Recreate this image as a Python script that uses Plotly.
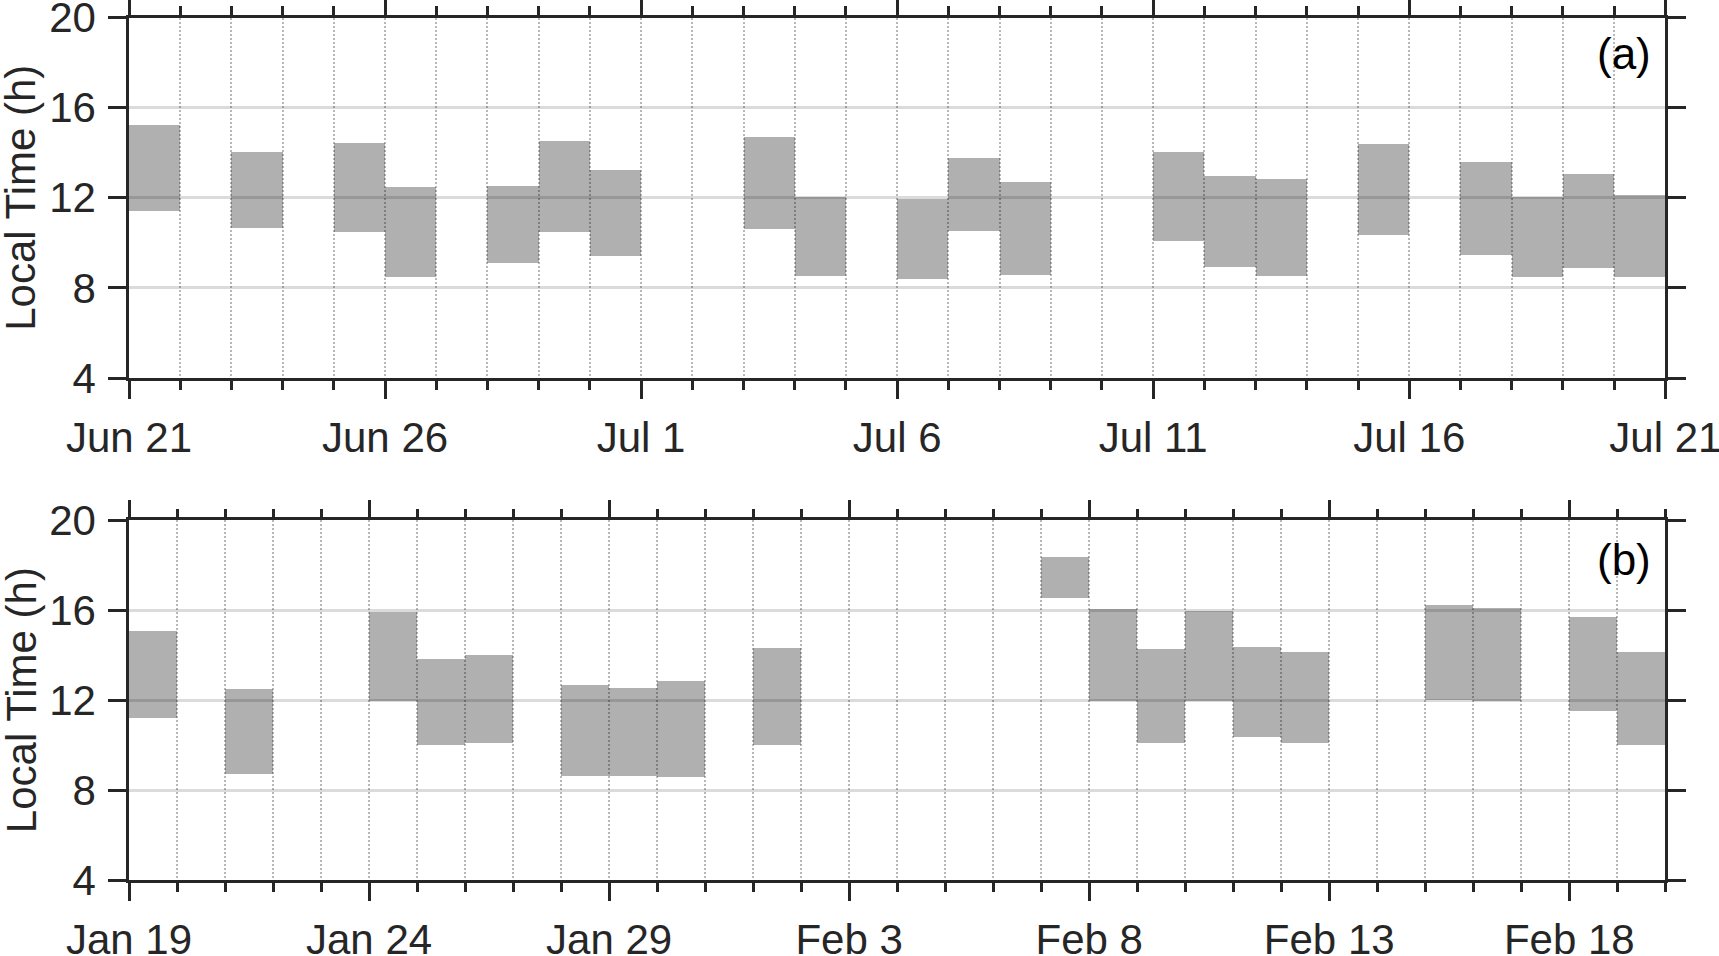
import plotly.graph_objects as go

# ---------------- data ----------------
# Panel (a): summer period
summer_days = ["2021-06-21", "2021-06-23", "2021-06-25", "2021-06-26", "2021-06-28",
               "2021-06-29", "2021-06-30", "2021-07-03", "2021-07-04", "2021-07-06",
               "2021-07-07", "2021-07-08", "2021-07-11", "2021-07-12", "2021-07-13",
               "2021-07-15", "2021-07-17", "2021-07-18", "2021-07-19", "2021-07-20"]
summer_start = [11.44, 10.70, 10.52, 8.49, 9.11, 10.52, 9.44, 10.62, 8.55, 8.40,
                10.55, 8.59, 10.09, 8.96, 8.53, 10.37, 9.47, 8.50, 8.89, 8.52]
summer_end = [15.27, 14.04, 14.47, 12.49, 12.56, 14.53, 13.24, 14.74, 12.07, 11.96,
              13.78, 12.71, 14.04, 12.99, 12.87, 14.39, 13.59, 12.04, 13.07, 12.16]
summer_range = ["2021-06-21", "2021-07-21"]

# Panel (b): winter period
winter_days = ["2021-01-19", "2021-01-21", "2021-01-24", "2021-01-25", "2021-01-26",
               "2021-01-28", "2021-01-29", "2021-01-30", "2021-02-01", "2021-02-07",
               "2021-02-08", "2021-02-09", "2021-02-10", "2021-02-11", "2021-02-12",
               "2021-02-15", "2021-02-16", "2021-02-18", "2021-02-19"]
winter_start = [11.20, 8.71, 11.93, 10.01, 10.09, 8.62, 8.62, 8.55, 9.99, 16.52,
                11.93, 10.06, 11.94, 10.34, 10.10, 12.01, 11.94, 11.50, 9.99]
winter_end = [15.08, 12.49, 15.91, 13.81, 14.01, 12.65, 12.52, 12.83, 14.30, 18.37,
              16.06, 14.25, 15.96, 14.33, 14.12, 16.22, 16.09, 15.69, 14.12]
winter_range = ["2021-01-19", "2021-02-20"]

y_range = [4, 20]
y_title = "Local Time (h)"
panel_labels = ["(a)", "(b)"]

# ---------------- styling ----------------
DAY_MS = 86400000
FONT = "Liberation Sans, Arial, Helvetica, sans-serif"
INK = "#262626"
BAR = "rgba(0,0,0,0.31)"
HGRID = "rgba(0,0,0,0.14)"
VGRID = "rgba(0,0,0,0.28)"
VDASH = "2px,2px"
FS = 42

fig = go.Figure()


def add_bars(days, start, end, xa, ya):
    dur = [e - s for s, e in zip(start, end)]
    fig.add_trace(go.Bar(
        x=days, y=dur, base=start, width=DAY_MS, offset=0,
        xaxis=xa, yaxis=ya,
        marker=dict(color=BAR, line=dict(width=0)),
        showlegend=False, hoverinfo="skip"))


add_bars(summer_days, summer_start, summer_end, "x", "y")
add_bars(winter_days, winter_start, winter_end, "x2", "y2")


def xcfg(domain, anchor, rng):
    return dict(
        domain=domain, anchor=anchor, type="date", range=rng,
        tick0=rng[0], dtick=5 * DAY_MS, tickformat="%b %-d",
        ticks="outside", ticklen=18, tickwidth=2.5, tickcolor=INK,
        showline=True, linewidth=2.5, linecolor=INK, mirror="ticks",
        showgrid=True, gridcolor=VGRID, griddash=VDASH, gridwidth=2,
        minor=dict(dtick=DAY_MS, tick0=rng[0], ticks="outside", ticklen=9,
                   tickwidth=2.5, tickcolor=INK, showgrid=True,
                   gridcolor=VGRID, griddash=VDASH, gridwidth=2),
        tickfont=dict(family=FONT, size=FS, color=INK),
        ticklabeloverflow="allow", ticklabelstandoff=3,
        automargin=False, zeroline=False, fixedrange=True)


def ycfg(domain, anchor):
    return dict(
        domain=domain, anchor=anchor, range=y_range, tick0=4, dtick=4,
        ticks="outside", ticklen=18, tickwidth=2.5, tickcolor=INK,
        showline=True, linewidth=2.5, linecolor=INK, mirror="ticks",
        showgrid=True, gridcolor=HGRID, gridwidth=2.5, zeroline=False,
        tickfont=dict(family=FONT, size=FS, color=INK),
        ticklabeloverflow="allow", ticklabelstandoff=4,
        automargin=False, fixedrange=True)


W, H = 1719, 956
xdom = [129.0 / W, 1665.3 / W]
ydom_a = [1 - 378 / H, 1 - 17.5 / H]
ydom_b = [1 - 880 / H, 1 - 520.3 / H]

fig.update_layout(
    width=W, height=H,
    margin=dict(l=0, r=0, t=0, b=0),
    paper_bgcolor="white", plot_bgcolor="white",
    bargap=0,
    xaxis=xcfg(xdom, "y", summer_range),
    yaxis=ycfg(ydom_a, "x"),
    xaxis2=xcfg(xdom, "y2", winter_range),
    yaxis2=ycfg(ydom_b, "x2"),
    font=dict(family=FONT, size=FS, color=INK),
)

annots = []
for ydom in (ydom_a, ydom_b):
    annots.append(dict(
        text=y_title, textangle=-90, xref="paper", yref="paper",
        x=21 / W, y=(ydom[0] + ydom[1]) / 2, xanchor="center", yanchor="middle",
        showarrow=False, borderpad=0,
        font=dict(family=FONT, size=FS, color=INK)))
annots.append(dict(text=panel_labels[0], xref="x domain", yref="y domain",
                   x=0.992, y=0.90, xanchor="right", yanchor="middle",
                   showarrow=False, font=dict(family=FONT, size=44, color="black")))
annots.append(dict(text=panel_labels[1], xref="x2 domain", yref="y2 domain",
                   x=0.992, y=0.89, xanchor="right", yanchor="middle",
                   showarrow=False, font=dict(family=FONT, size=44, color="black")))
fig.update_layout(annotations=annots)

fig.write_html("out.html", config={"displayModeBar": False},
               post_script="document.body.style.margin='0';document.body.style.overflow='hidden';")
